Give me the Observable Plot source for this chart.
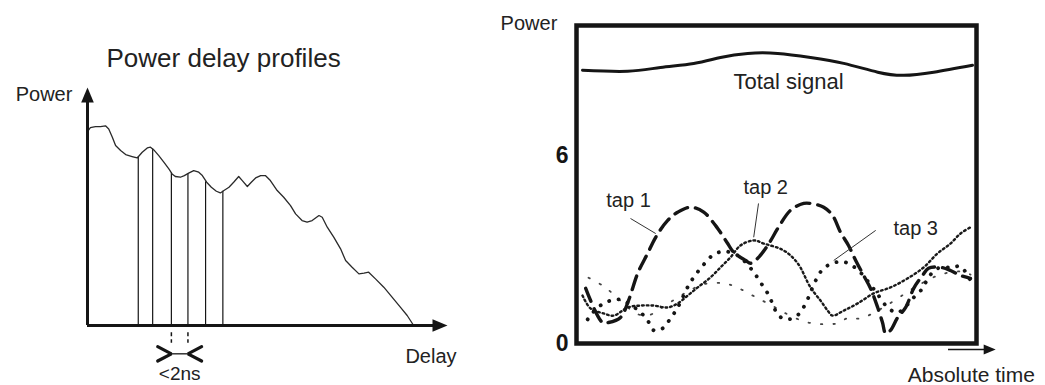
<!DOCTYPE html>
<html><head><meta charset="utf-8">
<script src="https://cdn.jsdelivr.net/npm/d3@7"></script>
<script src="https://cdn.jsdelivr.net/npm/@observablehq/plot@0.6"></script>
<style>
body{margin:0;background:#fff;}
#wrap{position:relative;width:1045px;height:385px;overflow:hidden;background:#fff;}
#left,#right{position:absolute;top:0;}
#left{left:0;} #right{left:480px;}
</style></head><body><div id="wrap"><div id="left"></div><div id="right"></div></div>
<script>
// ---------- data: left panel (power delay profile) ----------
const leftTitle = "Power delay profiles";
const leftYLabel = "Power";
const leftXLabel = "Delay";
const profile = [[0.01,8.17],[0.08,8.31],[0.22,8.36],[0.36,8.36],[0.50,8.39],[0.59,8.26],[0.69,7.91],[0.78,7.56],[0.92,7.35],[1.06,7.18],[1.24,7.10],[1.38,7.04],[1.52,7.28],[1.66,7.46],[1.75,7.49],[1.86,7.35],[1.98,7.14],[2.12,6.86],[2.26,6.58],[2.35,6.37],[2.44,6.26],[2.58,6.23],[2.69,6.30],[2.81,6.40],[2.95,6.51],[3.09,6.44],[3.19,6.30],[3.31,6.02],[3.44,5.81],[3.58,5.64],[3.69,5.57],[3.79,5.67],[3.93,5.81],[4.06,6.02],[4.20,6.26],[4.30,6.09],[4.44,5.84],[4.55,6.02],[4.67,6.20],[4.81,6.30],[4.94,6.30],[5.08,6.09],[5.27,5.67],[5.45,5.39],[5.64,5.04],[5.78,4.69],[5.96,4.41],[6.10,4.34],[6.24,4.41],[6.43,4.62],[6.52,4.55],[6.66,4.13],[6.84,3.71],[7.03,3.22],[7.17,2.73],[7.35,2.45],[7.54,2.17],[7.68,2.20],[7.81,2.24],[8.00,1.96],[8.23,1.61],[8.46,1.19],[8.69,0.77],[8.88,0.42],[9.06,0]];
const tapDelays = [1.41, 1.81, 2.33, 2.79, 3.28, 3.76];
const tapPowers = [7.08, 7.42, 6.41, 6.38, 6.04, 5.64];
const gapTaps = [2.33, 2.79];
const gapLabel = "<2ns";

// ---------- data: right panel (tap powers over absolute time) ----------
const rightYLabel = "Power";
const rightXLabel = "Absolute time";
const yTicks = [0, 6];
const totalSignal = [[0.15,8.72],[1.28,8.69],[2.10,8.81],[2.93,8.94],[3.60,9.13],[4.28,9.26],[5.03,9.26],[5.85,9.13],[6.68,8.94],[7.53,8.66],[8.18,8.56],[8.93,8.66],[9.90,8.88]];
const tap1 = [[0.23,1.76],[0.65,0.67],[0.80,0.67],[1.10,0.83],[1.30,1.37],[1.53,2.24],[1.78,2.88],[1.98,3.39],[2.28,3.93],[2.53,4.19],[2.85,4.35],[3.18,4.19],[3.53,3.67],[3.78,3.19],[3.93,2.91],[4.23,2.65],[4.35,2.56],[4.53,2.72],[4.78,3.13],[5.05,3.71],[5.35,4.25],[5.68,4.47],[5.85,4.47],[6.18,4.35],[6.40,4.09],[6.60,3.55],[6.80,3.13],[6.98,2.65],[7.18,2.17],[7.35,1.76],[7.53,1.15],[7.65,0.67],[7.73,0.32],[7.85,0.42],[8.03,0.83],[8.23,1.15],[8.43,1.76],[8.65,2.17],[8.80,2.40],[9.10,2.43],[9.35,2.33],[9.60,2.17],[9.85,2.08]];
const tap2 = [[0.15,1.53],[0.35,1.12],[0.68,0.96],[0.93,0.89],[1.28,1.15],[1.60,1.21],[1.93,1.21],[2.28,1.15],[2.53,1.28],[2.78,1.53],[3.03,1.79],[3.35,2.11],[3.60,2.43],[3.85,2.75],[4.10,3.13],[4.43,3.29],[4.68,3.19],[5.18,2.97],[5.53,2.56],[5.85,1.79],[6.10,1.37],[6.28,1.05],[6.40,0.89],[6.68,1.05],[7.03,1.28],[7.43,1.60],[7.85,1.79],[8.28,2.08],[8.68,2.43],[9.03,2.88],[9.35,3.19],[9.60,3.51],[9.85,3.71]];
const tap3 = [[0.28,0.77],[0.48,1.09],[0.73,1.31],[1.05,1.41],[1.55,1.05],[1.78,0.73],[1.93,0.42],[2.15,0.48],[2.35,0.80],[2.53,1.15],[2.80,1.85],[2.98,2.20],[3.18,2.52],[3.40,2.81],[3.68,2.94],[4.03,2.81],[4.40,2.33],[4.60,1.95],[4.78,1.60],[4.90,1.28],[5.05,0.89],[5.30,0.77],[5.55,0.93],[5.73,1.28],[5.98,2.01],[6.18,2.40],[6.48,2.59],[6.73,2.59],[7.05,2.33],[7.40,1.79],[7.55,1.53],[7.78,1.15],[8.03,0.99],[8.43,1.47],[8.65,1.76],[8.80,2.11],[9.03,2.40],[9.40,2.43],[9.60,2.46],[9.85,2.01]];
const tap4 = [[0.30,2.10],[0.65,1.85],[0.90,1.60],[1.20,1.25],[1.50,0.95],[1.80,0.90],[2.20,1.20],[2.70,1.60],[3.20,1.90],[3.70,1.92],[4.00,1.80],[4.30,1.60],[4.60,1.40],[4.90,1.20],[5.20,0.98],[5.70,0.70],[6.10,0.62],[6.50,0.64],[6.80,0.82],[7.10,0.80],[7.60,1.10],[8.10,1.50],[8.60,1.90],[9.10,2.20],[9.60,2.30],[9.85,2.20]];
const tapNames = ["tap 1", "tap 2", "tap 3"];
const totalName = "Total signal";

// ---------- drawing ----------
const font = "'Liberation Sans', Arial, Helvetica, sans-serif";
const ink = "#151515";
const arrowHead = {draw(ctx, size) {
  const r = Math.sqrt(size / Math.PI);
  ctx.moveTo(0, 0); ctx.lineTo(-0.42 * r, r); ctx.lineTo(0.42 * r, r); ctx.closePath();
}};
const one = [0];

// chevrons of the "<2ns" bracket, built from the two tap delays
const gapY = -1.19, armX = 0.38, armY = 0.3;
const chevrons = [
  [[gapTaps[0] - armX, gapY + armY], [gapTaps[0], gapY], [gapTaps[0] - armX, gapY - armY]],
  [[gapTaps[1] + armX, gapY + armY], [gapTaps[1], gapY], [gapTaps[1] + armX, gapY - armY]]
];

const left = Plot.plot({
  width: 480, height: 385,
  marginLeft: 87, marginRight: 33, marginTop: 87, marginBottom: 60,
  x: {domain: [0, 10], axis: null},
  y: {domain: [0, 10], axis: null},
  style: {fontFamily: font, background: "transparent", overflow: "visible", color: ink},
  marks: [
    Plot.ruleX(tapDelays.map((d, i) => ({x: d, y: tapPowers[i]})), {x: "x", y1: 0, y2: "y", stroke: ink, strokeWidth: 1.2}),
    Plot.line(profile, {stroke: "#2a2a2a", strokeWidth: 1.3}),
    Plot.ruleY(one, {y: 0, x1: 0, x2: 9.7, stroke: ink, strokeWidth: 3}),
    Plot.ruleX(one, {x: 0, y1: 0, y2: 9.6, stroke: ink, strokeWidth: 3}),
    Plot.dot(one, {x: 10, y: 0, symbol: arrowHead, r: 15, rotate: 90, fill: ink, stroke: "none"}),
    Plot.dot(one, {x: 0, y: 10, symbol: arrowHead, r: 15, rotate: 0, fill: ink, stroke: "none"}),
    Plot.ruleX(gapTaps, {x: d => d, y1: -0.3, y2: -0.75, stroke: ink, strokeWidth: 1.5, strokeDasharray: "4 3"}),
    Plot.ruleY(one, {y: gapY, x1: gapTaps[0], x2: gapTaps[1], stroke: ink, strokeWidth: 1.3}),
    ...chevrons.map(c => Plot.line(c, {stroke: ink, strokeWidth: 3.2, strokeLinejoin: "miter"})),
    Plot.text([gapLabel], {x: (gapTaps[0] + gapTaps[1]) / 2, y: -2.05, text: d => d, fontSize: 19, fill: "#222"}),
    Plot.text([leftTitle], {x: 3.78, y: 11.22, text: d => d, fontSize: 26, fill: "#222"}),
    Plot.text([leftYLabel], {x: -0.42, y: 9.7, text: d => d, fontSize: 20, textAnchor: "end", fill: "#222"}),
    Plot.text([leftXLabel], {x: 8.83, y: -1.3, text: d => d, fontSize: 20, textAnchor: "start", fill: "#222"})
  ]
});
document.getElementById("left").append(left);

const right = Plot.plot({
  width: 565, height: 385,
  marginLeft: 96, marginRight: 69, marginTop: 25, marginBottom: 42,
  x: {domain: [0, 10], axis: null},
  y: {domain: [0, 10.15], axis: null},
  style: {fontFamily: font, background: "transparent", overflow: "visible", color: ink},
  marks: [
    Plot.line(tap4, {curve: "catmull-rom", stroke: "#444", strokeWidth: 1.8, strokeDasharray: "1.5 11"}),
    Plot.line(tap2, {curve: "catmull-rom", stroke: "#1a1a1a", strokeWidth: 2.4, strokeDasharray: "1.7 3"}),
    Plot.line(tap3, {curve: "catmull-rom", stroke: ink, strokeWidth: 3.8, strokeLinecap: "round", strokeDasharray: "0.1 9.5"}),
    Plot.line(tap1, {curve: "catmull-rom", stroke: ink, strokeWidth: 3.4, strokeDasharray: "14 8"}),
    Plot.line(totalSignal, {curve: "natural", stroke: ink, strokeWidth: 3}),
    Plot.text([totalName], {x: 5.3, y: 8.36, text: d => d, fontSize: 22, fill: "#222"}),
    Plot.link([[1.35, 3.99, 1.98, 3.51], [4.55, 4.47, 4.43, 3.39], [7.48, 3.61, 6.43, 2.65]],
      {x1: d => d[0], y1: d => d[1], x2: d => d[2], y2: d => d[3], stroke: "#333", strokeWidth: 1}),
    Plot.text(tapNames, {x: [1.3, 4.73, 8.48], y: [4.56, 4.98, 3.67], text: d => d, fontSize: 20, fill: "#222"}),
    Plot.frame({stroke: ink, strokeWidth: 4.5}),
    Plot.axisY(yTicks, {tickSize: 0, tickPadding: 8, fontSize: 23, fontWeight: "bold", label: null, fill: ink}),
    Plot.text([rightYLabel], {x: -0.48, y: 10.2, text: d => d, fontSize: 20, textAnchor: "end", fill: "#222"}),
    Plot.ruleY(one, {y: -0.19, x1: 9.3, x2: 10.2, stroke: ink, strokeWidth: 1.6}),
    Plot.dot(one, {x: 10.48, y: -0.19, symbol: arrowHead, r: 12, rotate: 90, fill: ink, stroke: "none"}),
    Plot.text([rightXLabel], {x: 8.28, y: -1.02, text: d => d, fontSize: 21, textAnchor: "start", fill: "#222"})
  ]
});
document.getElementById("right").append(right);
</script></body></html>
